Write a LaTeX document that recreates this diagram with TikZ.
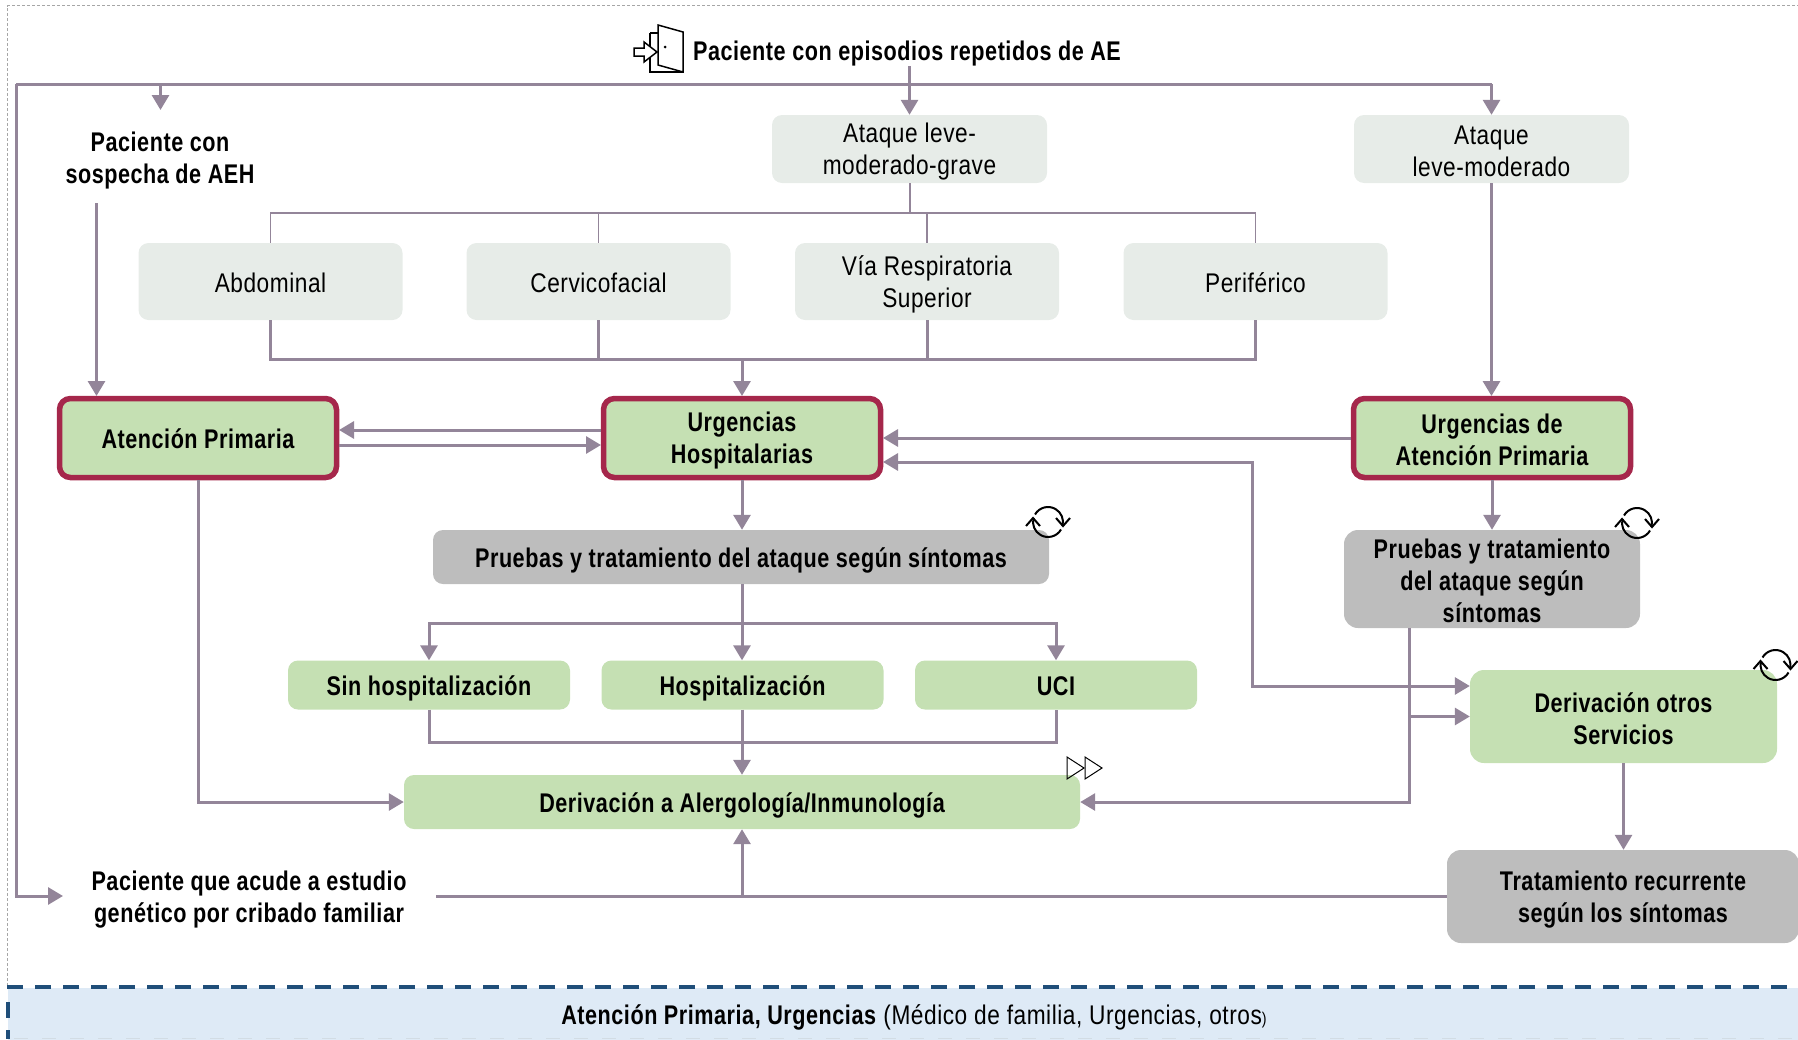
\documentclass[tikz,border=0pt]{standalone}
\usepackage{fontspec}
\setmainfont{Liberation Sans}[FakeStretch=0.84, LetterSpace=2, BoldFeatures={FakeStretch=0.8}]
\usetikzlibrary{arrows.meta}
\definecolor{linea}{HTML}{938599}
\definecolor{suave}{HTML}{E7ECE8}
\definecolor{verde}{HTML}{C5E0B3}
\definecolor{gris}{HTML}{BDBDBD}
\definecolor{rojo}{HTML}{A5274B}
\definecolor{azul}{HTML}{1F4E79}
\definecolor{banda}{HTML}{DEEAF6}
\newcommand\puntal{\vrule height 23pt depth 2pt width 0pt}
\tikzset{
	texto/.style={font=\fontsize{27}{32}\selectfont, align=center, inner sep=0pt, execute at begin node=\puntal, execute at end node=\puntal},
	negrita/.style={texto, font=\fontsize{27}{32}\selectfont\bfseries},
	bajo/.style={execute at begin node={\vrule height #1pt depth 0pt width 0pt}},
	bajo/.default=26.5,
	suavebox/.style={texto, fill=suave, rounded corners=10pt, text=black},
	rojobox/.style={negrita, fill=verde, draw=rojo, line width=5.5pt, rounded corners=11pt, minimum width=277, minimum height=79, outer sep=2.5pt},
	verdebox/.style={negrita, fill=verde, rounded corners=10pt},
	grisbox/.style={negrita, fill=gris, rounded corners=14pt},
	link/.style={draw=linea, line width=3pt, >={Triangle[length=15pt,width=17pt]}},
	fino/.style={draw=linea, line width=1.5pt},
	icono/.style={draw=black, line width=1.5pt, line join=miter},
}
\begin{document}
\begin{tikzpicture}[x=1pt, y=-1pt]
	\useasboundingbox (0,0) rectangle (1798,1039);
	\draw[gray!70, line width=1pt, dash pattern=on 3pt off 2pt] (7.5,986) -- (7.5,5.5) -- (1798,5.5);
	\node (inicio) [negrita, bajo] at (907,50) {Paciente con episodios repetidos de AE};
	\node (sospecha) [negrita, bajo=57] at (160,158) {Paciente con\\sospecha de AEH};
	\node (cribado) [negrita, bajo=57] at (249,897) {Paciente que acude a estudio\\genético por cribado familiar};
	\node (alto) [suavebox, bajo=57, minimum width=275, minimum height=68] at (909.5,149) {Ataque leve-\\moderado-grave};
	\node (derecha) [suavebox, bajo=57, minimum width=275, minimum height=68] at (1491.5,149) {Ataque\\leve-moderado};
	\node (abdominal) [suavebox, minimum width=264, minimum height=77] at (270.5,281.5) {Abdominal};
	\node (cervico) [suavebox, minimum width=264, minimum height=77] at (598.5,281.5) {Cervicofacial};
	\node (via) [suavebox, bajo=57, minimum width=264, minimum height=77] at (927,281.5) {Vía Respiratoria\\Superior};
	\node (periferico) [suavebox, minimum width=264, minimum height=77] at (1255.5,281.5) {Periférico};
	\node (ap) [rojobox] at (198,438) {Atención Primaria};
	\node (uh) [rojobox, bajo=57] at (742,438) {Urgencias\\Hospitalarias};
	\node (uap) [rojobox, bajo=57] at (1492,438) {Urgencias de\\Atención Primaria};
	\node (pruebas) [grisbox, bajo, rounded corners=10pt, minimum width=616, minimum height=54] at (741,557) {Pruebas y tratamiento  del ataque según síntomas};
	\node (pruebasb) [grisbox, bajo=89, minimum width=296, minimum height=98] at (1492,579) {Pruebas y tratamiento\\del ataque según\\síntomas};
	\node (sin) [verdebox, bajo, minimum width=282, minimum height=49] at (429,685) {Sin hospitalización};
	\node (hosp) [verdebox, bajo, minimum width=282, minimum height=49] at (742.5,685) {Hospitalización};
	\node (uci) [verdebox, minimum width=282, minimum height=49] at (1056,685) {UCI};
	\node (alergo) [verdebox, bajo, minimum width=676, minimum height=54] at (742,802) {Derivación a Alergología/Inmunología};
	\node (otros) [verdebox, bajo=57, rounded corners=14pt, minimum width=307, minimum height=93] at (1623.5,716.5) {Derivación otros\\Servicios};
	\node (recurrente) [grisbox, bajo=57, minimum width=352, minimum height=93] at (1623,896.5) {Tratamiento recurrente\\según los síntomas};
	\node (franja) [texto, bajo, fill=banda, minimum width=1790, minimum height=52] at (903,1014) {\hspace*{22pt}\textbf{Atención Primaria, Urgencias} (Médico de familia, Urgencias, otros{\fontsize{17}{17}\selectfont)}};
	\coordinate (busizq) at (16,84);
	\coordinate (busder) at (1491.5,84);
	\coordinate (puntasosp) at (160.5,110);
	\coordinate (puntacrib) at (63,896);
	\coordinate (basesosp) at (96.5,203);
	\coordinate (basecrib) at (436,896);
	\coordinate (ramafina) at (910,213);
	\coordinate (rama) at (742,359);
	\coordinate (ramab) at (742,623);
	\coordinate (ramac) at (742,742);
	\coordinate (codo) at (1252,462);
	\draw[link] (busizq) -- (busder);
	\draw[link,->] (busder) -- (derecha.north);
	\draw[link,->] (derecha.south) -- (derecha.south |- uap.north);
	\draw[link,->] (inicio.south -| alto.north) -- (alto.north);
	\draw[link,->] (puntasosp |- busizq) -- (puntasosp);
	\draw[link,->] (busizq) -- (busizq |- puntacrib) -- (puntacrib);
	\draw[link,->] (basesosp) -- (basesosp |- ap.north);
	\draw[fino] (alto.south -| ramafina) -- (ramafina);
	\draw[fino] (abdominal.north) -- (abdominal.north |- ramafina) -- (periferico.north |- ramafina) -- (periferico.north);
	\draw[fino] (cervico.north) -- (cervico.north |- ramafina);
	\draw[fino] (via.north) -- (via.north |- ramafina);
	\draw[link] (abdominal.south) -- (abdominal.south |- rama) -- (periferico.south |- rama) -- (periferico.south);
	\draw[link] (cervico.south) -- (cervico.south |- rama);
	\draw[link] (via.south) -- (via.south |- rama);
	\draw[link,->] (rama) -- (rama |- uh.north);
	\draw[link,->] (uh.west |- 0,430) -- (ap.east |- 0,430);
	\draw[link,->] (ap.east |- 0,445) -- (uh.west |- 0,445);
	\draw[link,->] (uap.west) -- (uh.east |- uap.west);
	\draw[link,<->] (uh.east |- codo) -- (codo) -- (codo |- 0,686) -- (otros.west |- 0,686);
	\draw[link,->] (uh.south) -- (uh.south |- pruebas.north);
	\draw[link,->] (uap.south) -- (pruebasb.north);
	\draw[link,->] (pruebas.south -| ramab) -- (hosp.north -| ramab);
	\draw[link,->] (ramab) -| (sin.north);
	\draw[link,->] (ramab) -| (uci.north);
	\draw[link] (sin.south) |- (ramac) -| (uci.south);
	\draw[link,->] (hosp.south -| ramac) -- (alergo.north -| ramac);
	\draw[link,->] (ap.south) |- (alergo.west);
	\draw[link,->] (pruebasb.south -| 1409,0) -- (1409,0 |- alergo.east) -- (alergo.east);
	\draw[link,->] (1409,0 |- otros.west) -- (otros.west);
	\draw[link,->] (otros.south) -- (otros.south |- recurrente.north);
	\draw[link] (basecrib) -- (recurrente.west |- basecrib);
	\draw[link,->] (alergo.south |- basecrib) -- (alergo.south);
	\draw[azul, line width=4pt, dash pattern=on 16pt off 12pt] (7,987) -- (1798,987);
	\draw[azul, line width=4pt, dash pattern=on 16pt off 12pt] (8,1002) -- (8,1039);
	\draw[azul!20, line width=1.5pt, dash pattern=on 14pt off 14pt] (14,1038.5) -- (1798,1038.5);
	\draw[icono, fill=white] (650,33) -- (658,33) (650,33) -- (650,72) -- (683,72);
	\draw[icono, fill=white] (658,25) -- (683,32) -- (683,72) -- (658,65) -- cycle;
	\fill (665,47) circle (1.5pt);
	\draw[icono, fill=white] (634,48) -- (644,48) -- (644,42) -- (657,52) -- (644,62) -- (644,56) -- (634,56) -- cycle;
	\foreach \cx/\cy in {1048/522, 1637/523, 1775.5/665} {
		\draw[icono, line width=2pt] (\cx-13,\cy-7.5) arc[start angle=150, end angle=-15, radius=15pt];
		\draw[icono, line width=2pt] (\cx+13,\cy+7.5) arc[start angle=-30, end angle=-195, radius=15pt];
		\draw[icono, line width=2pt] (\cx-22,\cy+4) -- (\cx-15,\cy-4) -- (\cx-8,\cy+4);
		\draw[icono, line width=2pt] (\cx+22,\cy-4) -- (\cx+15,\cy+4) -- (\cx+8,\cy-4);
	}
	\foreach \fx in {1067,1085} {
		\draw[draw=black, line width=1pt] (\fx,757) -- (\fx+17,768) -- (\fx,779) -- cycle;
	}
\end{tikzpicture}
\end{document}
